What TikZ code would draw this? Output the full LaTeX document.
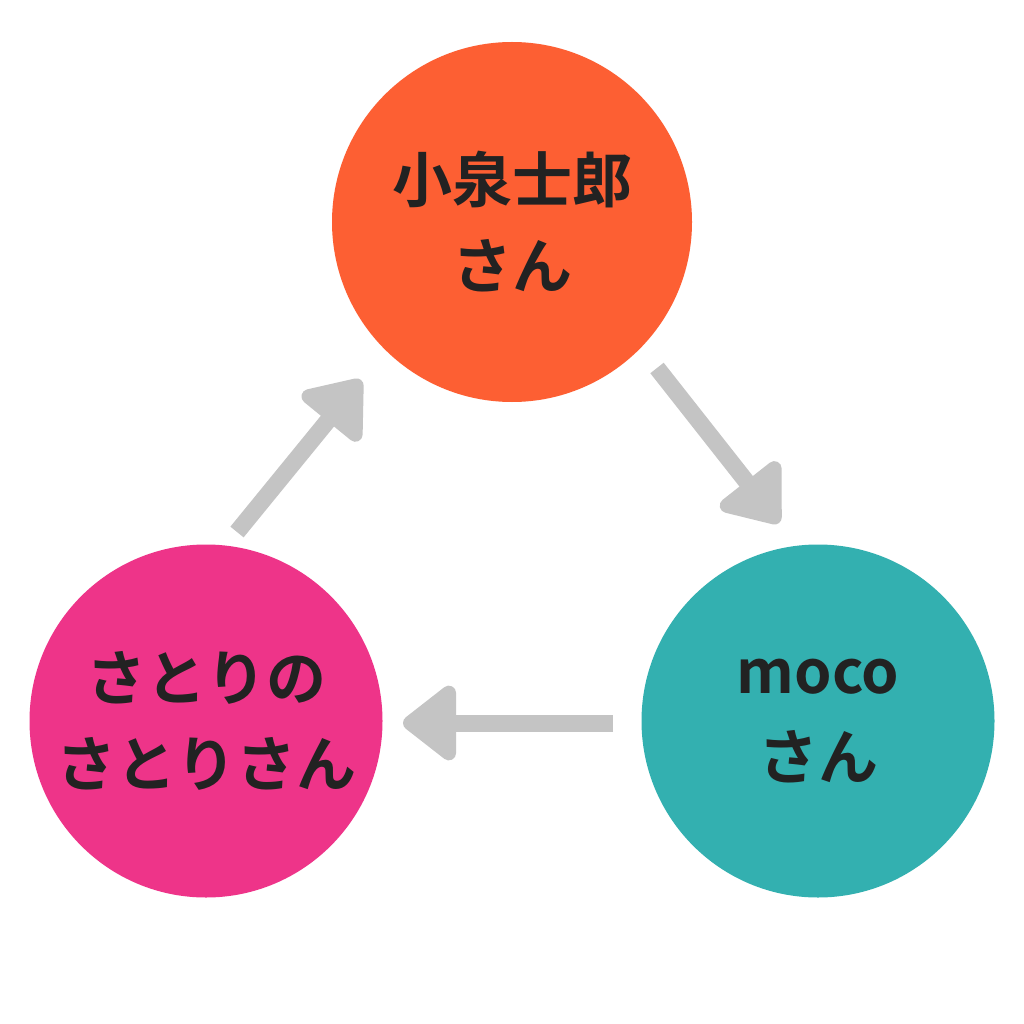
\documentclass[tikz,border=0pt]{standalone}
\usepackage{fontspec}
\usetikzlibrary{arrows.meta}
\newfontfamily\cjk{Noto Sans CJK JP}[BoldFont={* Bold}]
\definecolor{cOrange}{HTML}{FD5F33}
\definecolor{cPink}{HTML}{EE3489}
\definecolor{cTeal}{HTML}{33B0B0}
\definecolor{cArrow}{HTML}{C4C4C4}
\definecolor{cText}{HTML}{222222}
\tikzset{
  bubble/.style={circle, inner sep=0pt, text=cText, align=center,
    font=\cjk\bfseries\fontsize{60}{86}\selectfont},
  flow/.style={draw=cArrow, line width=17pt,
    -{Triangle[length=58pt,width=86pt,round]}}
}
\begin{document}
\begin{tikzpicture}[x=1pt,y=-1pt]
\useasboundingbox[fill=white] (0,0) rectangle (1024,1024);
\node[bubble, fill=cOrange, minimum size=360pt] (top) at (512,222) {小泉士郎\\さん};
\node[bubble, fill=cPink, minimum size=353pt] (left) at (206,721) {さとりの\\さとりさん};
\node[bubble, fill=cTeal, minimum size=353pt] (right) at (818,721) {\rule{0pt}{20pt}moco\\さん};
\coordinate (a1s) at (657,368);
\coordinate (a1e) at (779,523);
\coordinate (a2s) at (613,723);
\coordinate (a2e) at (403,723);
\coordinate (a3s) at (237,532);
\coordinate (a3e) at (361,380);
\draw[flow] (a1s) -- (a1e);
\draw[flow] (a2s) -- (a2e);
\draw[flow] (a3s) -- (a3e);
\end{tikzpicture}
\end{document}
